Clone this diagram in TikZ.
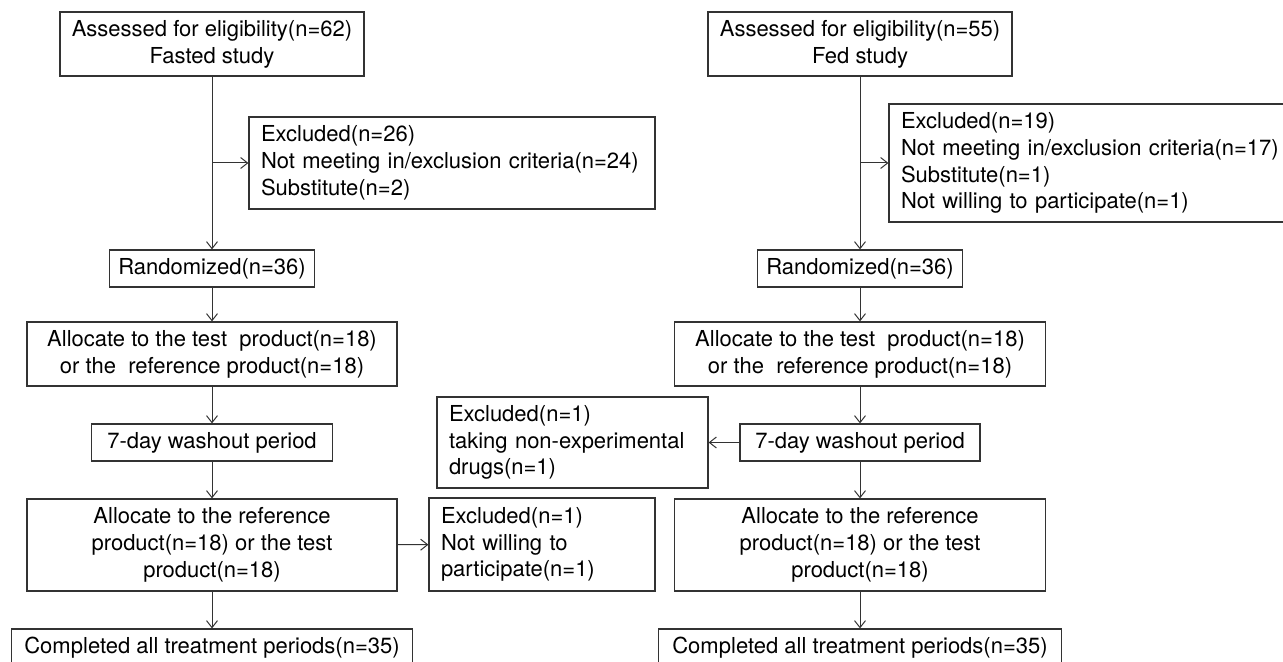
\documentclass[tikz,border=0pt]{standalone}
\usepackage{fontspec}
\setmainfont{TeX Gyre Heros}
\usetikzlibrary{arrows.meta}
\begin{document}
\begin{tikzpicture}[x=0.5pt,y=-0.5pt,
  box/.style={draw=black!80,line width=0.6pt,inner sep=0pt,align=center,
    font=\fontsize{11}{13.4}\selectfont},
  lbox/.style={box,align=left},
  flow/.style={draw=black!80,line width=0.5pt,-{Straight Barb[length=3.5pt,width=5.5pt]}}]
  \clip (0,0) rectangle (1283,662);
  % fasted study
  \node[box,minimum width=152pt,minimum height=32pt] (fA) at (212,44) {Assessed for eligibility(n=62)\\Fasted study};
  \node[lbox,minimum width=203pt,minimum height=46pt,text width=191pt] (fX) at (452,163) {Excluded(n=26)\\Not meeting in/exclusion criteria(n=24)\\Substitute(n=2)};
  \node[box,minimum width=102.5pt,minimum height=18.5pt] (fR) at (212,268.5) {Randomized(n=36)};
  \node[box,minimum width=185pt,minimum height=32pt] (fT) at (212,354) {Allocate to the test\ \ product(n=18)\\or the\ \ reference product(n=18)};
  \node[box,minimum width=120.5pt,minimum height=18.5pt] (fW) at (212,442.5) {7-day washout period};
  \node[box,minimum width=185pt,minimum height=46pt] (fS) at (212,545) {Allocate to the reference\\product(n=18) or the test\\product(n=18)};
  \node[lbox,minimum width=113pt,minimum height=46.5pt,text width=101pt] (fN) at (542,544.5) {Excluded(n=1)\\Not willing to\\participate(n=1)};
  \node[box,minimum width=200.5pt,minimum height=18.5pt] (fC) at (212,647.5) {Completed all treatment periods(n=35)};
  \coordinate (fj) at (212,163);
  \draw[flow] (fA) -- (fR);
  \draw[flow] (fj) -- (fX);
  \draw[flow] (fR) -- (fT);
  \draw[flow] (fT) -- (fW);
  \draw[flow] (fW) -- (fS);
  \draw[flow] (fS) -- (fN);
  \draw[flow] (fS) -- (fC);
  % fed study
  \node[box,minimum width=152pt,minimum height=32pt] (eA) at (860,44) {Assessed for eligibility(n=55)\\Fed study};
  \node[lbox,minimum width=205.5pt,minimum height=59pt,text width=193.5pt] (eX) at (1094.5,163) {Excluded(n=19)\\Not meeting in/exclusion criteria(n=17)\\Substitute(n=1)\\Not willing to participate(n=1)};
  \node[box,minimum width=102.5pt,minimum height=18.5pt] (eR) at (860,268.5) {Randomized(n=36)};
  \node[box,minimum width=185.5pt,minimum height=32pt] (eT) at (860,354) {Allocate to the test\ \ product(n=18)\\or the\ \ reference product(n=18)};
  \node[box,minimum width=120pt,minimum height=18.5pt] (eW) at (860,442.5) {7-day washout period};
  \node[lbox,minimum width=135.5pt,minimum height=45.5pt,text width=123.5pt] (eD) at (572.5,442.5) {Excluded(n=1)\\taking non-experimental\\drugs(n=1)};
  \node[box,minimum width=185.5pt,minimum height=46pt] (eS) at (860,545) {Allocate to the reference\\product(n=18) or the test\\product(n=18)};
  \node[box,minimum width=201.5pt,minimum height=18.5pt] (eC) at (860,647.5) {Completed all treatment periods(n=35)};
  \coordinate (ej) at (860,163);
  \draw[flow] (eA) -- (eR);
  \draw[flow] (ej) -- (eX);
  \draw[flow] (eR) -- (eT);
  \draw[flow] (eT) -- (eW);
  \draw[flow] (eW) -- (eD);
  \draw[flow] (eW) -- (eS);
  \draw[flow] (eS) -- (eC);
\end{tikzpicture}
\end{document}
